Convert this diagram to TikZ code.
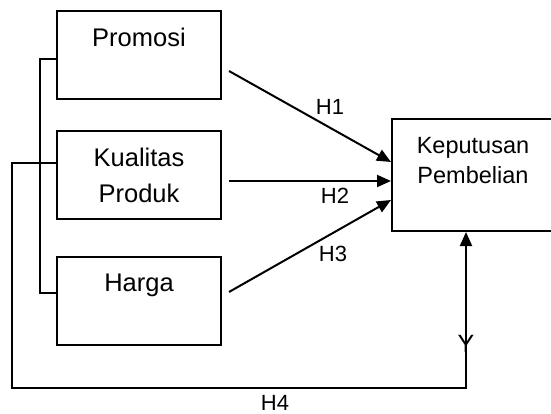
\documentclass[tikz,border=0pt]{standalone}
\usepackage{fontspec}
\setmainfont{Liberation Sans}
\usetikzlibrary{arrows.meta,calc}
\begin{document}
\begin{tikzpicture}[x=1pt,y=-1pt, line width=2pt,
  box/.style={draw, rectangle, inner sep=0pt, align=center, font=\fontsize{25.5}{36}\selectfont},
  kbox/.style={draw, rectangle, inner sep=0pt, align=center, font=\fontsize{23.5}{30}\selectfont},
  hlab/.style={font=\fontsize{22}{26}\selectfont, inner sep=0pt},
  arr/.style={-{Triangle[length=14pt,width=12pt]}}]
\useasboundingbox (0,0) rectangle (551,414);
\clip (0,0) rectangle (551,414);
\node[box, minimum width=164pt, minimum height=88pt] (promosi) at (139,55) {Promosi\\~};
\node[box, minimum width=164pt, minimum height=88pt] (kualitas) at (139,175) {Kualitas\\Produk};
\node[box, minimum width=164pt, minimum height=88pt] (harga) at (139,301) {Harga\\~};
\node[kbox, minimum width=162pt, minimum height=112pt] (kep) at (473,175) {Keputusan\\Pembelian\\~};
% bracket
\draw ([yshift=-4pt]promosi.west) -| (40,293) -- ([yshift=8pt]harga.west);
% outer loop
\coordinate (c1) at (12,163);
\coordinate (c2) at (12,388);
\coordinate (c3) at (466,388);
\draw[arr] ([yshift=12pt]kualitas.west) -- (c1) -- (c2) -- (c3) -- (c3 |- kep.south);
% arrows
\draw[arr] ([shift={(7pt,-16pt)}]promosi.east) -- ([yshift=13pt]kep.west);
\draw[arr] ([shift={(7pt,-6pt)}]kualitas.east) -- ([yshift=-6pt]kep.west);
\draw[arr] ([shift={(7pt,9pt)}]harga.east) -- ([yshift=-25pt]kep.west);
% labels
\node[hlab] (h1) at (330,107) {H1};
\node[hlab] (h2) at (335,196) {H2};
\node[hlab] (h3) at (333,254) {H3};
\node[hlab] (h4) at (275,403) {H4};
\node[font=\fontsize{25}{28}\selectfont, inner sep=0pt] (y) at (466,344) {Y};
\end{tikzpicture}
\end{document}
